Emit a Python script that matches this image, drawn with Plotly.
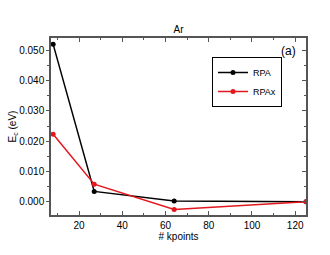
import plotly.graph_objects as go

kpoints = [8, 27, 64, 125]
rpa = [0.0520, 0.0034, 0.0002, 0.0]
rpax = [0.0223, 0.0058, -0.0026, 0.0]
yticks = [0.0, 0.01, 0.02, 0.03, 0.04, 0.05]
yticklabels = ["0.000", "0.010", "0.020", "0.030", "0.040", "0.050"]

fig = go.Figure()
fig.add_trace(go.Scatter(x=kpoints, y=rpa, mode="lines+markers", name="RPA",
                         line=dict(color="black", width=1.5),
                         marker=dict(color="black", size=5)))
fig.add_trace(go.Scatter(x=kpoints, y=rpax, mode="lines+markers", name="RPAx",
                         line=dict(color="#e3171d", width=1.5),
                         marker=dict(color="#e3171d", size=5)))
fig.add_trace(go.Scatter(x=[kpoints[0]], y=[rpa[0]], yaxis="y2", mode="markers",
                         marker=dict(opacity=0), showlegend=False, hoverinfo="skip"))

font = dict(family="Liberation Sans, Arial, sans-serif", size=10, color="black")
yr = [-0.0044, 0.0541]
fig.update_layout(
    width=330, height=255,
    margin=dict(l=51, r=24, t=38, b=40),
    paper_bgcolor="white", plot_bgcolor="white",
    font=font,
    title=dict(text="Ar", x=0.5, xref="paper", y=1 - 29/255, yanchor="middle",
               font=dict(size=10)),
    showlegend=True,
    legend=dict(x=(212-51)/255, y=1-(57-38)/177, xanchor="left", yanchor="top",
                bordercolor="black", borderwidth=1, bgcolor="white",
                font=dict(size=9), tracegroupgap=0, itemwidth=30,
                yref="paper"),
    xaxis=dict(range=[7, 125], tickvals=[20, 40, 60, 80, 100, 120], automargin=False,
               ticks="inside", ticklen=4, tickwidth=1, tickcolor="#555",
               minor=dict(dtick=10, tick0=0, ticks="inside", ticklen=2, tickcolor="#555"),
               showline=True, linecolor="#555", linewidth=1.5, mirror="ticks",
               showgrid=False, zeroline=False,
               title=dict(text="# kpoints", standoff=2, font=dict(size=10))),
    yaxis=dict(range=yr, tickvals=yticks, ticktext=yticklabels, automargin=False,
               ticks="outside", ticklen=3, tickwidth=1, tickcolor="#555",
               minor=dict(dtick=0.005, tick0=0, ticks="outside", ticklen=2, tickcolor="#555"),
               showline=True, linecolor="#555", linewidth=1.5,
               showgrid=False, zeroline=False,
               title=dict(text="E<sub>c</sub> (eV)", standoff=0, font=dict(size=10))),
    yaxis2=dict(range=yr, overlaying="y", side="right", tickvals=yticks, automargin=False,
                showticklabels=False, ticks="inside", ticklen=4, tickcolor="#555",
                minor=dict(dtick=0.005, tick0=0, ticks="inside", ticklen=2, tickcolor="#555"),
                showline=True, linecolor="#555", linewidth=1.5,
                showgrid=False, zeroline=False),
    annotations=[dict(text="(a)", x=(288-51)/255, y=1-(51-38)/177, xref="paper", yref="paper",
                      showarrow=False, font=dict(size=12), xanchor="center", yanchor="middle")],
)
fig.write_html("out.html", config={"displayModeBar": False},
               post_script="document.body.style.margin='0';")
